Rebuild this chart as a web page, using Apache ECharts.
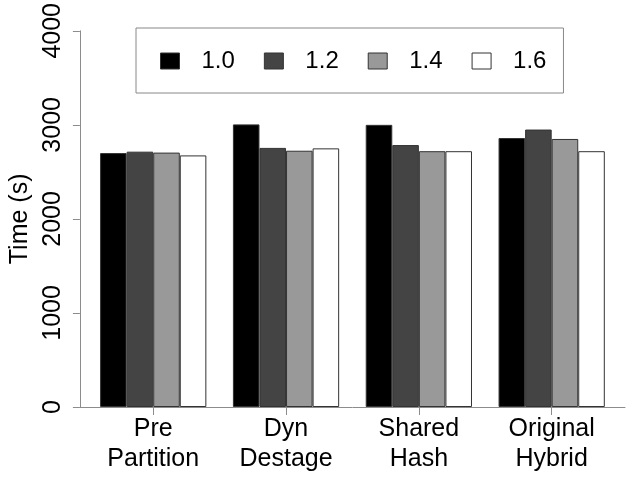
<!DOCTYPE html>
<html>
<head>
<meta charset="utf-8">
<script src="https://cdn.jsdelivr.net/npm/echarts@6/dist/echarts.min.js"></script>
<style>html,body{margin:0;padding:0;background:#fff;}#c{width:640px;height:480px;}</style>
</head>
<body>
<div id="c"></div>
<script>
// ---- data ----
const categories = ['Pre\nPartition', 'Dyn\nDestage', 'Shared\nHash', 'Original\nHybrid'];
const seriesNames = ['1.0', '1.2', '1.4', '1.6'];
const values10 = [2700, 3005, 3000, 2860];
const values12 = [2715, 2755, 2785, 2950];
const values14 = [2705, 2725, 2720, 2850];
const values16 = [2675, 2750, 2720, 2720];
const yTicks = [0, 1000, 2000, 3000, 4000];

// ---- layout helpers (R barplot style coordinates) ----
const groupPos = categories.map((c, i) => 3 + 5 * i);
const colors = ['#000000', '#444444', '#999999', '#ffffff'];
const allValues = [values10, values12, values14, values16];
const FONT = '"Liberation Sans", Arial, Helvetica, sans-serif';

const chart = echarts.init(document.getElementById('c'), null, {renderer: 'canvas'});
chart.setOption({
  animation: false,
  backgroundColor: '#ffffff',
  textStyle: {fontFamily: FONT, color: '#000'},
  grid: {left: 72, right: 15, top: 29, bottom: 73, containLabel: false},
  legend: {
    data: seriesNames,
    left: 136, top: 28,
    orient: 'horizontal',
    itemWidth: 19, itemHeight: 16, itemGap: 29,
    padding: [21, 17, 20, 24],
    borderColor: '#888', borderWidth: 1,
    icon: 'rect',
    itemStyle: {borderColor: '#333', borderWidth: 1},
    textStyle: {fontFamily: FONT, fontSize: 24, color: '#000', lineHeight: 16, padding: [0, 0, 0, 17]}
  },
  xAxis: {
    type: 'value',
    min: 0.24, max: 20.76,
    splitLine: {show: false},
    axisLine: {show: true, onZero: false, lineStyle: {color: '#8c8c8c', width: 1}},
    axisTick: {show: true, length: 8, customValues: groupPos, lineStyle: {color: '#8c8c8c'}},
    axisLabel: {
      customValues: groupPos,
      margin: 7,
      fontFamily: FONT, fontSize: 25, color: '#000', lineHeight: 30,
      formatter: v => categories[Math.round((v - 3) / 5)] || ''
    }
  },
  yAxis: {
    type: 'value',
    min: 0, max: 4000, interval: 1000,
    name: 'Time (s)',
    nameLocation: 'middle',
    nameRotate: 90,
    nameGap: 44,
    nameTextStyle: {fontFamily: FONT, fontSize: 25, color: '#000'},
    splitLine: {show: false},
    axisLine: {show: true, lineStyle: {color: '#8c8c8c', width: 1}},
    axisTick: {show: true, length: 7, lineStyle: {color: '#8c8c8c'}},
    axisLabel: {
      rotate: 90, margin: 14, fontFamily: FONT, fontSize: 25, color: '#000',
      customValues: yTicks,
      formatter: v => String(v)
    }
  },
  series: seriesNames.map((name, k) => ({
    name: name,
    type: 'bar',
    barWidth: '20%',
    barGap: '0%',
    itemStyle: {color: colors[k], borderColor: '#333', borderWidth: 1},
    data: allValues[k].map((v, i) => [groupPos[i], v])
  }))
});
</script>
</body>
</html>
